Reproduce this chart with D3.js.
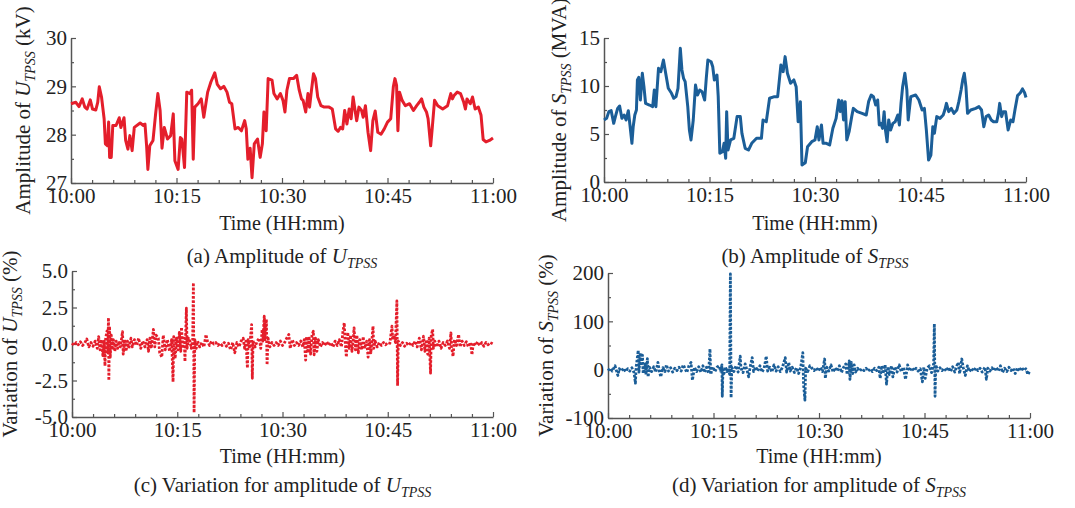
<!DOCTYPE html>
<html>
<head>
<meta charset="utf-8">
<script src="https://cdn.jsdelivr.net/npm/d3@7"></script>
<style>
body { margin: 0; background: #fff; }
svg text { font-family: "Liberation Serif", "Times New Roman", serif; fill: #222; }
</style>
</head>
<body>
<svg width="1075" height="508"></svg>
<script>
//* Data: [minutes after 10:00, value]
const ampU = [[0,28.64],[0.69,28.67],[1.14,28.58],[1.6,28.74],[1.97,28.57],[2.29,28.53],[2.74,28.72],[3.06,28.53],[3.52,28.51],[3.8,28.67],[4.02,28.99],[4.34,28.78],[4.71,28.33],[4.89,27.81],[5.17,27.77],[5.35,28.26],[5.49,27.53],[5.72,27.53],[5.94,28.19],[6.4,28.19],[6.86,28.35],[7.09,28.15],[7.54,28.35],[7.77,27.88],[8.09,27.7],[8.37,27.98],[8.69,27.67],[9.0,28.15],[9.83,28.24],[10.29,28.19],[10.52,28.22],[10.75,27.77],[10.93,27.28],[11.2,27.77],[11.66,27.88],[12.03,28.43],[12.35,28.85],[12.67,28.5],[12.94,27.72],[13.26,28.15],[13.72,27.91],[14.17,27.98],[14.54,28.43],[14.77,27.46],[15.23,27.28],[15.55,27.94],[15.77,27.91],[16.14,27.32],[16.46,28.88],[16.92,28.85],[17.15,28.92],[17.38,27.49],[17.6,28.57],[18.06,28.64],[18.52,28.74],[18.88,28.36],[19.43,28.88],[19.89,29.09],[20.44,29.28],[20.8,29.04],[21.26,28.95],[21.72,29.0],[22.18,28.88],[22.54,28.67],[22.86,28.64],[23.32,28.12],[23.78,28.15],[24.23,28.08],[24.69,28.29],[24.92,28.12],[25.15,27.49],[25.47,27.72],[25.74,27.11],[26.06,27.81],[26.52,27.91],[26.89,27.53],[27.21,27.81],[27.43,28.47],[27.75,28.08],[28.03,29.16],[28.58,29.13],[28.85,28.85],[29.31,28.74],[29.77,28.85],[30.14,28.71],[30.42,28.47],[30.7,28.92],[31.06,29.16],[31.62,29.16],[32.08,29.23],[32.45,28.92],[32.77,28.74],[33.0,28.71],[33.37,28.47],[33.69,28.85],[33.92,28.57],[34.16,28.88],[34.48,29.26],[34.76,29.16],[35.08,28.78],[35.54,28.6],[36.0,28.57],[36.69,28.57],[37.15,28.53],[37.62,28.12],[37.99,28.07],[38.31,28.15],[38.63,28.12],[38.91,28.5],[39.23,28.22],[39.55,28.53],[39.83,28.33],[40.11,28.78],[40.39,28.5],[40.62,28.29],[40.94,28.57],[41.31,28.5],[41.54,28.36],[41.86,28.6],[42.23,28.05],[42.6,27.67],[42.92,28.29],[43.25,28.49],[43.62,28.05],[44.08,28.01],[44.54,28.12],[45.0,28.26],[45.46,28.33],[45.83,28.99],[46.06,29.16],[46.29,29.02],[46.48,28.08],[46.71,28.88],[47.08,28.71],[47.54,28.6],[48.14,28.64],[48.69,28.5],[49.15,28.6],[49.52,28.67],[49.85,28.74],[50.17,28.57],[50.54,28.47],[50.77,28.33],[51.14,27.77],[51.37,28.15],[51.69,28.71],[52.15,28.6],[52.85,28.53],[53.54,28.6],[54.0,28.85],[54.23,28.74],[54.46,28.81],[54.92,28.88],[55.38,28.85],[55.84,28.67],[56.08,28.53],[56.3,28.74],[56.77,28.64],[57.09,28.78],[57.46,28.53],[57.92,28.57],[58.3,28.4],[58.6,27.9],[59.0,27.85],[59.5,27.88],[60,27.93]];

const ampS = [[0,6.46],[0.37,6.63],[0.69,7.33],[1.02,7.43],[1.38,6.11],[1.62,6.8],[1.94,7.67],[2.22,7.92],[2.54,6.63],[2.86,6.98],[3.14,6.46],[3.46,7.43],[3.69,5.94],[3.97,4.03],[4.15,5.76],[4.38,6.98],[4.61,7.5],[4.75,10.63],[4.94,10.9],[5.17,8.54],[5.45,11.32],[5.68,9.93],[5.91,8.19],[6.46,8.02],[6.92,7.85],[7.15,9.58],[7.38,7.85],[7.75,11.84],[8.08,11.49],[8.45,12.71],[8.77,11.32],[9.14,9.76],[9.6,9.24],[9.92,8.72],[10.24,8.89],[10.52,9.76],[10.85,13.92],[11.08,11.67],[11.31,10.8],[11.54,10.45],[11.91,7.85],[12.14,5.42],[12.37,4.38],[12.69,6.46],[13.01,10.1],[13.29,9.06],[13.61,9.58],[13.94,9.41],[14.31,8.54],[14.54,10.8],[14.77,12.71],[15.23,12.53],[15.46,12.01],[15.69,10.63],[16.06,11.15],[16.24,8.89],[16.47,2.99],[16.84,3.16],[17.07,4.03],[17.3,2.47],[17.44,7.33],[17.63,3.33],[18.0,4.38],[18.46,4.55],[18.92,6.81],[19.38,6.81],[19.61,5.07],[20.07,3.51],[20.54,3.33],[21.0,4.03],[21.69,4.55],[22.38,4.55],[22.61,6.46],[23.07,6.28],[23.54,8.72],[24.23,8.89],[24.69,8.89],[25.15,12.19],[25.47,11.49],[25.75,13.06],[26.08,11.32],[26.53,10.28],[26.99,10.63],[27.32,9.93],[27.6,6.28],[27.92,8.37],[28.15,1.77],[28.62,2.0],[28.94,3.68],[29.54,4.2],[30.0,4.38],[30.32,5.76],[30.56,4.38],[30.92,5.94],[31.15,4.03],[31.62,4.03],[32.08,3.85],[32.54,5.59],[33.0,6.63],[33.37,8.54],[33.6,7.33],[33.83,8.47],[34.06,6.46],[34.29,8.37],[34.52,4.38],[34.85,5.24],[35.22,6.81],[35.45,7.67],[36.0,7.33],[36.69,7.15],[37.29,6.98],[37.62,8.37],[37.99,9.06],[38.31,8.89],[38.63,8.02],[38.91,8.54],[39.14,5.94],[39.37,6.11],[39.6,5.59],[39.83,7.33],[40.02,5.42],[40.25,4.2],[40.48,6.46],[40.75,5.42],[41.08,6.11],[41.4,6.28],[41.77,6.98],[42.0,5.94],[42.23,8.19],[42.46,9.93],[42.78,11.32],[43.06,9.58],[43.25,6.46],[43.62,8.89],[44.31,9.06],[44.77,8.54],[45.23,7.5],[45.55,7.67],[45.83,5.42],[46.15,2.29],[46.48,2.81],[46.75,5.76],[46.98,5.07],[47.31,6.81],[47.77,6.63],[48.23,6.98],[48.46,7.5],[48.69,8.19],[49.01,7.33],[49.38,7.67],[49.75,7.15],[50.17,7.5],[50.45,8.37],[50.77,9.58],[51.0,10.63],[51.23,11.32],[51.46,9.93],[51.69,7.15],[52.15,7.5],[52.85,7.67],[53.31,7.85],[53.68,7.5],[54.0,5.76],[54.32,6.81],[54.69,6.98],[55.06,6.46],[55.38,6.28],[55.84,6.28],[56.08,7.15],[56.26,8.19],[56.54,6.81],[56.77,7.33],[57.09,7.33],[57.46,5.42],[57.83,6.46],[58.15,6.28],[58.45,7.6],[58.8,9.0],[59.2,9.3],[59.5,9.7],[59.8,9.3],[60,8.8]];

const varU = [[0,0.05],[0.3,-0.1],[0.6,0.1],[0.9,-0.05],[1.2,0.15],[1.5,-0.1],[1.8,0.05],[2.1,0.35],[2.4,-0.2],[2.7,0.1],[3.0,-0.15],[3.3,0.2],[3.6,-0.3],[3.8,0.5],[4.0,-0.4],[4.2,0.3],[4.4,-0.8],[4.6,0.2],[4.7,-1.5],[4.8,0.4],[5.0,0.9],[5.1,-0.6],[5.2,1.8],[5.25,-2.5],[5.35,1.2],[5.45,-0.9],[5.6,0.6],[5.7,-0.4],[5.9,0.3],[6.1,-0.5],[6.3,0.2],[6.5,-0.3],[6.7,0.2],[6.9,-0.2],[7.2,0.85],[7.3,-0.7],[7.5,0.3],[7.7,-0.5],[7.9,0.2],[8.1,-0.3],[8.4,0.4],[8.6,-0.2],[8.9,0.3],[9.2,-0.1],[9.5,0.4],[9.8,-0.3],[10.1,0.2],[10.4,-0.2],[10.7,0.3],[10.9,-0.5],[11.1,0.4],[11.3,-0.3],[11.6,1.0],[11.8,-0.2],[12.0,0.6],[12.3,0.4],[12.5,-0.6],[12.8,-0.9],[13.0,0.6],[13.3,-0.4],[13.6,0.3],[13.9,-0.5],[14.2,0.3],[14.4,-2.6],[14.5,0.5],[14.7,-1.0],[14.9,0.4],[15.1,-0.4],[15.3,0.8],[15.5,-0.5],[15.6,1.15],[15.8,-0.3],[16.0,0.4],[16.1,-1.2],[16.2,0.6],[16.3,2.45],[16.4,-0.3],[16.6,0.4],[16.8,0.2],[17.0,-0.3],[17.2,0.3],[17.3,4.2],[17.4,-4.7],[17.5,0.3],[17.7,-0.3],[17.9,0.2],[18.2,-0.2],[18.5,0.1],[18.8,-0.2],[19.1,0.65],[19.3,0.2],[19.6,-0.1],[19.9,0.2],[20.2,0.0],[20.5,0.1],[20.8,-0.1],[21.1,0.05],[21.4,-0.1],[21.7,0.1],[22.0,-0.15],[22.3,0.05],[22.6,-0.4],[22.9,0.1],[23.2,-0.6],[23.5,0.1],[23.8,-0.2],[24.1,0.2],[24.4,0.4],[24.6,-0.3],[24.8,0.2],[25.0,-1.65],[25.1,0.3],[25.3,-0.3],[25.6,1.33],[25.7,-2.35],[25.8,0.2],[26.1,-0.2],[26.4,0.2],[26.7,0.4],[26.9,-0.3],[27.1,1.0],[27.2,0.2],[27.4,1.9],[27.5,0.3],[27.7,1.7],[27.8,-1.43],[27.95,0.4],[28.2,-0.2],[28.5,0.1],[28.8,-0.1],[29.1,0.1],[29.4,-0.1],[29.7,0.2],[30.0,-0.1],[30.3,0.1],[30.6,0.4],[30.9,0.65],[31.1,-0.3],[31.4,0.3],[31.7,-0.1],[32.0,0.1],[32.3,-0.1],[32.6,0.2],[32.9,-0.2],[33.1,0.3],[33.3,-1.1],[33.4,0.5],[33.6,-0.6],[33.8,0.4],[34.0,-0.7],[34.2,0.6],[34.4,0.87],[34.5,-0.74],[34.7,0.4],[34.9,-0.5],[35.1,0.3],[35.4,-0.2],[35.7,0.1],[36.0,-0.1],[36.3,0.15],[36.6,-0.1],[36.9,0.1],[37.2,-0.2],[37.5,0.2],[37.8,-0.1],[38.1,0.3],[38.4,-0.2],[38.6,0.8],[38.8,1.45],[38.9,0.4],[39.1,-0.9],[39.3,0.8],[39.5,-0.3],[39.7,0.6],[39.9,-0.5],[40.1,0.4],[40.2,1.1],[40.4,-0.4],[40.6,0.6],[40.8,-0.6],[41.0,0.3],[41.3,-0.4],[41.5,0.5],[41.7,-0.3],[42.0,0.2],[42.2,-0.9],[42.4,0.3],[42.6,-0.6],[42.9,1.22],[43.0,-0.3],[43.2,0.2],[43.5,-0.2],[43.8,0.1],[44.1,-0.1],[44.4,0.1],[44.7,-0.05],[45.0,0.1],[45.3,0.05],[45.6,1.22],[45.7,0.3],[45.9,0.6],[46.1,0.1],[46.3,2.95],[46.4,-2.86],[46.5,0.2],[46.8,-0.1],[47.1,0.1],[47.4,-0.15],[47.7,0.05],[48.0,-0.1],[48.3,0.1],[48.6,-0.1],[48.9,0.2],[49.2,-0.2],[49.5,0.4],[49.8,-0.4],[50.1,0.53],[50.3,-0.5],[50.5,0.3],[50.7,-0.7],[50.9,0.4],[51.1,-2.0],[51.2,0.6],[51.4,1.0],[51.5,-0.3],[51.7,0.2],[52.0,-0.2],[52.3,0.2],[52.6,-0.3],[52.9,0.1],[53.2,-0.1],[53.5,0.2],[53.8,-0.3],[54.0,0.76],[54.1,-0.2],[54.3,-0.85],[54.5,0.3],[54.8,-0.1],[55.1,0.65],[55.3,-0.2],[55.6,0.2],[55.9,-0.1],[56.2,0.15],[56.5,-0.2],[56.8,0.1],[57.0,-0.74],[57.2,0.1],[57.5,-0.1],[57.8,0.15],[58.1,-0.1],[58.4,0.1],[58.7,-0.15],[59.0,0.1],[59.3,-0.05],[59.6,0.1],[60,0.0]];

const varS = [[0,-2],[0.3,3],[0.6,-3],[1.0,8],[1.2,-2],[1.4,-12],[1.6,2],[1.9,-3],[2.2,3],[2.5,-4],[2.8,2],[3.1,-3],[3.4,4],[3.7,-6],[3.9,-28],[4.0,5],[4.3,40],[4.4,-5],[4.6,35],[4.7,8],[4.9,30],[5.0,-8],[5.3,12],[5.4,-10],[5.6,23],[5.7,-15],[5.9,5],[6.2,-4],[6.5,6],[6.8,-5],[7.1,15],[7.3,-3],[7.5,-15],[7.8,4],[8.1,-4],[8.3,10],[8.6,-3],[8.9,4],[9.2,-5],[9.5,3],[9.8,-2],[10.1,5],[10.4,-3],[10.7,10],[10.9,4],[11.2,-6],[11.5,8],[11.8,15],[12.0,-22],[12.3,5],[12.6,-4],[12.9,6],[13.2,-5],[13.5,8],[13.7,-6],[14.0,5],[14.3,-8],[14.5,43],[14.6,-10],[14.9,6],[15.2,-4],[15.5,5],[15.8,8],[16.0,-3],[16.2,10],[16.25,-55],[16.35,4],[16.5,-8],[16.7,6],[16.9,-4],[17.1,3],[17.3,-10],[17.4,198],[17.5,-58],[17.6,5],[17.9,-4],[18.2,8],[18.5,-5],[18.8,28],[18.9,3],[19.2,-6],[19.5,12],[19.8,-3],[20.0,-15],[20.2,5],[20.5,25],[20.7,-4],[21.0,6],[21.3,-3],[21.6,8],[21.9,-5],[22.2,3],[22.5,28],[22.7,-3],[23.0,5],[23.3,-5],[23.6,10],[23.9,-3],[24.2,6],[24.5,-4],[24.8,5],[25.2,25],[25.4,-5],[25.7,15],[25.9,-3],[26.2,5],[26.5,-6],[26.8,4],[27.1,-8],[27.4,5],[27.7,35],[27.8,-30],[28.0,-63],[28.1,3],[28.4,-4],[28.7,8],[29.0,3],[29.3,-2],[29.6,4],[29.9,-3],[30.2,5],[30.5,-4],[30.8,22],[30.9,-18],[31.1,5],[31.4,-3],[31.7,10],[32.0,-5],[32.3,4],[32.6,-3],[32.9,8],[33.2,-6],[33.5,5],[33.8,12],[34.0,-10],[34.3,18],[34.4,-20],[34.6,15],[34.8,-8],[35.0,10],[35.2,-5],[35.5,3],[35.8,-3],[36.1,2],[36.4,-2],[36.7,3],[37.0,-3],[37.3,2],[37.6,-4],[37.9,3],[38.2,-2],[38.5,5],[38.7,-18],[38.9,8],[39.1,-8],[39.4,10],[39.6,-30],[39.8,6],[40.0,-10],[40.3,8],[40.5,-15],[40.8,6],[41.1,-5],[41.4,10],[41.7,-4],[42.0,5],[42.3,-20],[42.6,10],[42.9,-3],[43.2,4],[43.5,-2],[43.8,3],[44.1,-3],[44.4,2],[44.7,-25],[44.9,5],[45.1,-18],[45.4,4],[45.7,8],[46.0,-6],[46.3,12],[46.4,95],[46.5,-55],[46.6,10],[46.9,-3],[47.2,4],[47.5,-2],[47.8,3],[48.1,-3],[48.4,5],[48.7,-4],[49.0,6],[49.3,-5],[49.6,8],[49.8,15],[50.0,-8],[50.3,22],[50.5,5],[50.8,-12],[51.1,8],[51.4,-4],[51.7,3],[52.0,-3],[52.3,4],[52.6,-2],[52.9,3],[53.2,-5],[53.6,5],[53.8,-20],[54.0,3],[54.3,-3],[54.6,4],[54.9,-2],[55.2,5],[55.5,-3],[55.8,8],[56.1,-6],[56.4,3],[56.7,-4],[57.0,5],[57.3,-2],[57.6,3],[57.9,-8],[58.2,4],[58.5,-3],[58.8,5],[59.1,-2],[59.4,2],[59.7,-10],[60,-2]];

const timeTicks = [0, 15, 30, 45, 60];
const ticksU = [27, 28, 29, 30];
const ticksS = [0, 5, 10, 15];
const ticksVarU = [-5, -2.5, 0, 2.5, 5];
const ticksVarS = [-100, 0, 100, 200];

const red = "#e41e2b", blue = "#1b5e98";
const svg = d3.select("svg");

const timeFmt = (m) => `${10 + Math.floor(m / 60)}:${String(m % 60).padStart(2, "0")}`;
const hyphen = (s) => String(s).replace("\u2212", "-");

//* panel layouts
const panels = [
	{ data: ampU, x0: 71, x1: 493, y0: 38, y1: 183, dom: [27, 30], ticks: ticksU, minorStep: 0.5,
		fmt: (d) => d, color: red, dotted: false, titleX: 30, sym: "U", pre: "Amplitude of ", post: " (kV)",
		cap: ["(a) Amplitude of ", "U"], capY: 263, timeY: 230 },
	{ data: ampS, x0: 604, x1: 1026, y0: 38, y1: 182, dom: [0, 15], ticks: ticksS, minorStep: 2.5,
		fmt: (d) => d, color: blue, dotted: false, titleX: 566, sym: "S", pre: "Amplitude of ", post: " (MVA)",
		cap: ["(b) Amplitude of ", "S"], capY: 263, timeY: 230 },
	{ data: varU, x0: 72, x1: 493, y0: 271, y1: 417, dom: [-5, 5], ticks: ticksVarU, minorStep: 1.25,
		fmt: (d) => hyphen(d3.format(".1f")(d)), color: red, dotted: true, titleX: 17, sym: "U", pre: "Variation of ", post: " (%)",
		cap: ["(c) Variation for amplitude of ", "U"], capY: 492, timeY: 463 },
	{ data: varS, x0: 608, x1: 1030, y0: 273, y1: 418, dom: [-100, 200], ticks: ticksVarS, minorStep: 50,
		fmt: (d) => hyphen(d), color: blue, dotted: true, titleX: 553, sym: "S", pre: "Variation of ", post: " (%)",
		cap: ["(d) Variation for amplitude of ", "S"], capY: 492, timeY: 463 }
];

//* text with italic symbol and TPSS subscript
function symText(sel, pre, sym, post) {
	sel.append("tspan").text(pre);
	sel.append("tspan").attr("font-style", "italic").text(sym);
	sel.append("tspan").attr("font-style", "italic").attr("font-size", 14).attr("dy", 5).text("TPSS");
	if (post) sel.append("tspan").attr("dy", -5).text(post);
}

panels.forEach((p) => {
	const x = d3.scaleLinear().domain([0, 60]).range([p.x0, p.x1]);
	const y = d3.scaleLinear().domain(p.dom).range([p.y1, p.y0]);
	const g = svg.append("g");

	const minorY = d3.range(p.dom[0], p.dom[1] + 1e-9, p.minorStep).filter((v) => !p.ticks.includes(v));
	const minorX = d3.range(0, 61, 3).filter((v) => !timeTicks.includes(v));

	// minor ticks
	g.append("g").attr("transform", `translate(0,${p.y1})`)
		.call(d3.axisBottom(x).tickValues(minorX).tickSize(-3).tickSizeOuter(0).tickFormat(""))
		.call((a) => a.select(".domain").remove());
	g.append("g").attr("transform", `translate(${p.x0},0)`)
		.call(d3.axisLeft(y).tickValues(minorY).tickSize(-3).tickSizeOuter(0).tickFormat(""))
		.call((a) => a.select(".domain").remove());

	// major axes
	const xa = g.append("g").attr("transform", `translate(0,${p.y1})`)
		.call(d3.axisBottom(x).tickValues(timeTicks).tickSize(-5).tickSizeOuter(0).tickPadding(5).tickFormat(timeFmt));
	const ya = g.append("g").attr("transform", `translate(${p.x0},0)`)
		.call(d3.axisLeft(y).tickValues(p.ticks).tickSize(-5).tickSizeOuter(0).tickPadding(4).tickFormat(p.fmt));
	[xa, ya].forEach((a) => {
		a.selectAll("text").attr("font-size", 21).attr("font-family", null).style("fill", "#222");
		a.select(".domain").attr("stroke", "#555").attr("stroke-width", 1.5);
	});
	g.selectAll(".tick line").attr("stroke", "#555").attr("stroke-width", 1.2);

	// series
	const line = d3.line().x((d) => x(d[0])).y((d) => y(d[1]));
	const path = g.append("path")
		.datum(p.data)
		.attr("d", line)
		.attr("fill", "none")
		.attr("stroke", p.color)
		.attr("stroke-linejoin", "round");
	if (p.dotted) path.attr("stroke-width", 2.8).attr("stroke-dasharray", "2.6,1.6");
	else path.attr("stroke-width", 3);

	// axis titles
	g.append("text")
		.attr("x", (p.x0 + p.x1) / 2)
		.attr("y", p.timeY)
		.attr("text-anchor", "middle")
		.attr("font-size", 20)
		.text("Time (HH:mm)");
	const yt = g.append("text")
		.attr("transform", `translate(${p.titleX},${(p.y0 + p.y1) / 2}) rotate(-90)`)
		.attr("text-anchor", "middle")
		.attr("font-size", 21);
	symText(yt, p.pre, p.sym, p.post);

	// caption
	const cap = g.append("text")
		.attr("x", (p.x0 + p.x1) / 2)
		.attr("y", p.capY)
		.attr("text-anchor", "middle")
		.attr("font-size", 21);
	symText(cap, p.cap[0], p.cap[1], "");
});
</script>
</body>
</html>
